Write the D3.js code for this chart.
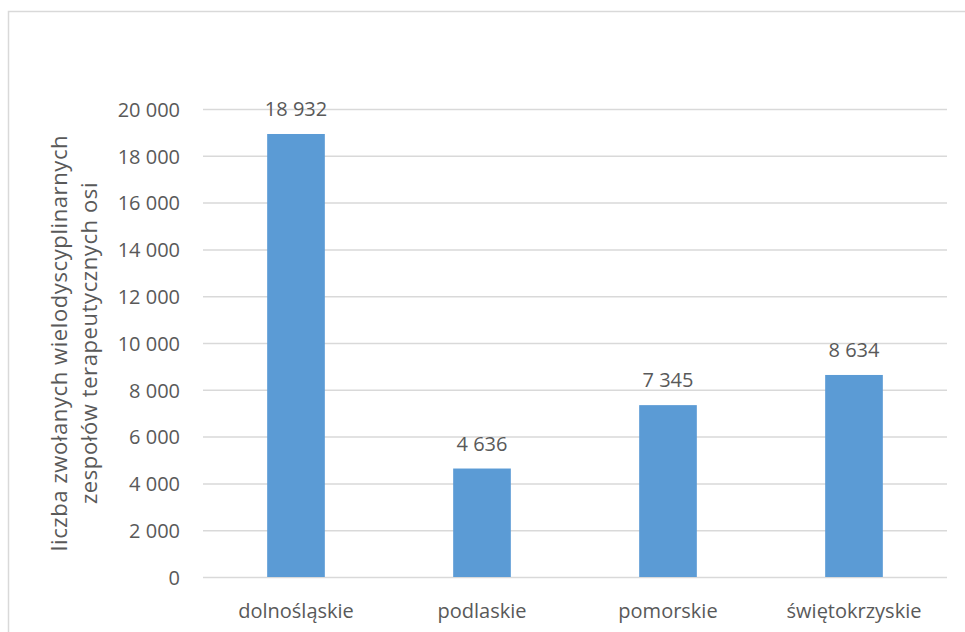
<!DOCTYPE html>
<html>
<head>
<meta charset="utf-8">
<script src="https://cdn.jsdelivr.net/npm/d3@7"></script>
<style>
  html, body { margin: 0; padding: 0; background: #fff; }
  svg { display: block; }
  text { font-family: "Open Sans", "Noto Sans", sans-serif; fill: #595959; }
</style>
</head>
<body>
<svg id="chart" width="965" height="632"></svg>
<script>
const categories = ["dolnośląskie", "podlaskie", "pomorskie", "świętokrzyskie"];
const values = [18932, 4636, 7345, 8634];
const yTicks = [0, 2000, 4000, 6000, 8000, 10000, 12000, 14000, 16000, 18000, 20000];
const yTitleLines = ["liczba zwołanych wielodyscyplinarnych", "zespołów terapeutycznych osi"];

const svg = d3.select("#chart");
const W = 965, H = 632;
const margin = { top: 109, right: 18, bottom: 55, left: 203 };
const FONT = "'Open Sans', 'Noto Sans', sans-serif";

// chart frame
svg.append("rect")
  .attr("x", 8.5).attr("y", 11.5)
  .attr("width", W + 10).attr("height", H + 10)
  .attr("fill", "none").attr("stroke", "#d9d9d9").attr("stroke-width", 1.5);

const x = d3.scaleBand().domain(categories)
  .range([margin.left, W - margin.right]).paddingInner(0.69).paddingOuter(0.345);
const y = d3.scaleLinear().domain([0, 20000]).range([H - margin.bottom, margin.top]);

const fmtNum = v => d3.format(",")(v).replace(/,/g, " ");

// gridlines
const grid = d3.axisLeft(y).tickValues(yTicks).tickSize(-(W - margin.right - margin.left)).tickFormat("");
const gg = svg.append("g").attr("transform", `translate(${margin.left},0)`).call(grid);
gg.select(".domain").remove();
gg.selectAll("line").attr("stroke", "#d9d9d9").attr("stroke-width", 1.5);

// y tick labels
const ya = d3.axisLeft(y).tickValues(yTicks).tickSize(0).tickPadding(23).tickFormat(fmtNum);
const yg = svg.append("g").attr("transform", `translate(${margin.left},0)`).call(ya);
yg.select(".domain").remove();
yg.selectAll("text").attr("font-size", 20).attr("fill", "#595959")
  .attr("font-family", FONT).attr("dy", "0.36em");

// bars
svg.append("g").selectAll("rect").data(values).join("rect")
  .attr("x", (d, i) => x(categories[i]))
  .attr("y", d => y(d))
  .attr("width", x.bandwidth())
  .attr("height", d => y(0) - y(d))
  .attr("fill", "#5b9bd5");

// value labels
svg.append("g").selectAll("text").data(values).join("text")
  .attr("x", (d, i) => x(categories[i]) + x.bandwidth() / 2)
  .attr("y", d => y(d) - 18)
  .attr("text-anchor", "middle")
  .attr("font-size", 20)
  .attr("fill", "#404040")
  .text(d => fmtNum(d));

// category labels
const xa = d3.axisBottom(x).tickSize(0).tickPadding(27);
const xg = svg.append("g").attr("transform", `translate(0,${H - margin.bottom})`).call(xa);
xg.select(".domain").remove();
xg.selectAll("text").attr("font-size", 20).attr("fill", "#595959")
  .attr("font-family", FONT);

// y axis title
const title = svg.append("text")
  .attr("transform", `translate(67,${(y(0) + y(20000)) / 2}) rotate(-90)`)
  .attr("text-anchor", "middle")
  .attr("font-size", 22)
  .style("letter-spacing", "0.6px")
  .attr("fill", "#595959");
title.selectAll("tspan").data(yTitleLines).join("tspan")
  .attr("x", 0).attr("dy", (d, i) => i === 0 ? 0 : 30)
  .text(d => d);
</script>
</body>
</html>
